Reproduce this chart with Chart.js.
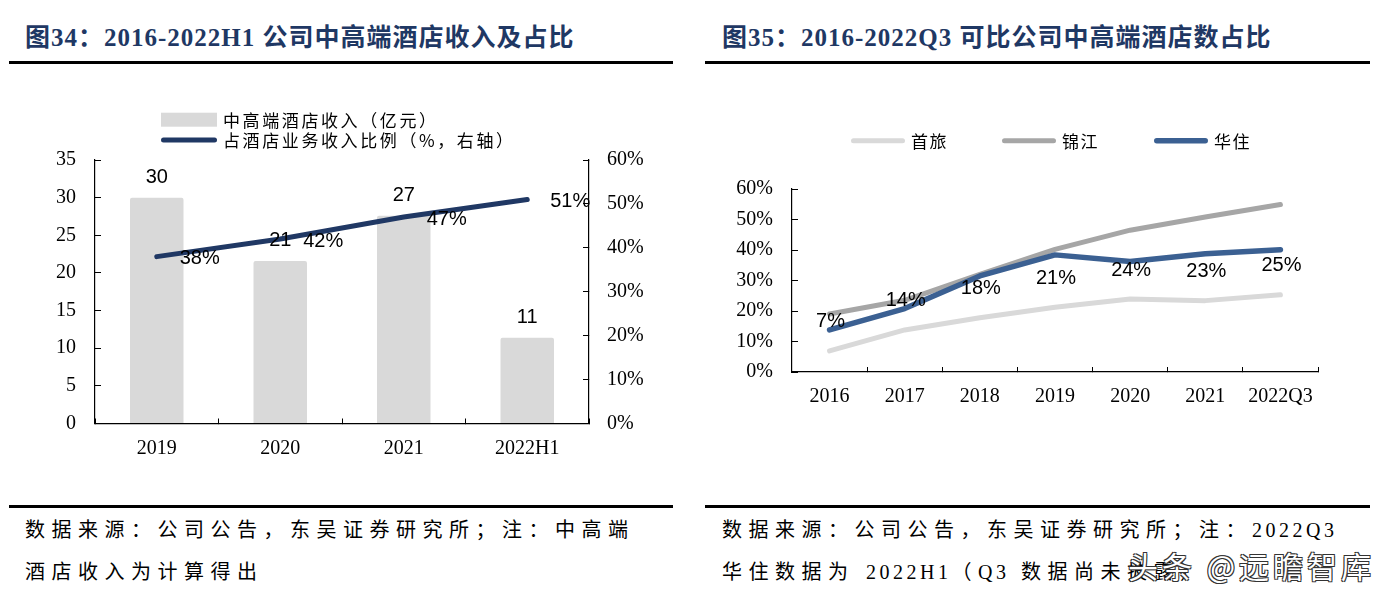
<!DOCTYPE html>
<html lang="zh">
<head>
<meta charset="UTF-8">
<title>中高端酒店收入及占比</title>
<script src="https://cdn.jsdelivr.net/npm/chart.js"></script>
<style>
  body { margin: 0; width: 1385px; height: 598px; background: #fff; position: relative; overflow: hidden;
         font-family: 'Liberation Serif', 'Noto Sans CJK SC', serif; }
  .title { position: absolute; top: 24px; font-size: 25px; line-height: 27px; font-weight: bold; color: #1f3864;
           letter-spacing: 1px; white-space: nowrap; }
  .rule { position: absolute; height: 3px; background: #000; }
  .note { position: absolute; top: 509px; font-size: 20px; line-height: 42px; letter-spacing: 6.5px; white-space: nowrap; }
  .note .en { letter-spacing: 3.5px; }
  .box { position: absolute; top: 90px; }
  .mark { position: absolute; left: 1128px; top: 546px; font-family: 'Noto Sans CJK SC', sans-serif; font-size: 30px;
          line-height: 38px; letter-spacing: 4px; color: #fff; white-space: nowrap;
          text-shadow: 1px 1px 0 #333, -1px -1px 0 #333, 1px -1px 0 #333, -1px 1px 0 #333; }
</style>
</head>
<body>

<div class="title" style="left:25px;">图34：2016-2022H1 公司中高端酒店收入及占比</div>
<div class="rule" style="left:9px; width:664px; top:61px;"></div>
<div class="title" style="left:722px;">图35：2016-2022Q3 可比公司中高端酒店数占比</div>
<div class="rule" style="left:705px; width:665px; top:61px;"></div>

<canvas id="revChart" class="box" style="left:0px;" width="690" height="390"></canvas>
<canvas id="roomChart" class="box" style="left:700px;" width="685" height="330"></canvas>

<div class="rule" style="left:9px; width:664px; top:505px;"></div>
<div class="rule" style="left:705px; width:665px; top:505px;"></div>
<div class="note" style="left:25px;">数据来源：公司公告，东吴证券研究所；注：中高端<br>酒店收入为计算得出</div>
<div class="note" style="left:722px;">数据来源：公司公告，东吴证券研究所；注：<span class="en">2022Q3</span><br>华住数据为 <span class="en">2022H1</span>（<span class="en">Q3</span> 数据尚未披露）</div>
<div class="mark">头条 @远瞻智库</div>

<script>
    // 图34：中高端酒店收入（亿元）及占比（%）
    var revCats = ['2019', '2020', '2021', '2022H1'];
    var revValues = [30, 21.6, 27.6, 11.4];
    var revShare = [38, 42, 47, 51];
    var revLeftTicks = [0, 5, 10, 15, 20, 25, 30, 35];
    var revRightTicks = [0, 10, 20, 30, 40, 50, 60];

    // 图35：可比公司中高端酒店数占比（%）
    var roomCats = ['2016', '2017', '2018', '2019', '2020', '2021', '2022Q3'];
    var shoulv = [6.9, 13.8, 17.8, 21.2, 23.9, 23.4, 25.3];
    var jinjiang = [19, 23.5, 32, 40.2, 46.5, 50.8, 54.9];
    var huazhu = [13.8, 20.8, 31.5, 38.4, 36.2, 38.8, 40.1];
    var roomTicks = [0, 10, 20, 30, 40, 50, 60];

    Chart.defaults.font.family = "'Liberation Serif', 'Times New Roman', serif";
    Chart.defaults.font.size = 20;
    Chart.defaults.color = '#000';

    var labelFont = '20px "Liberation Sans", Arial, sans-serif';

    // 自绘图例（左图为竖排）
    function makeLegend(items, spacing) {
        return {
            id: 'legendDraw',
            afterDraw: function(chart) {
                var ctx = chart.ctx;
                ctx.save();
                ctx.font = '17px "Noto Sans CJK SC", sans-serif';
                ctx.letterSpacing = spacing;
                ctx.textBaseline = 'middle';
                ctx.textAlign = 'left';
                items.forEach(function(it) {
                    var ds = chart.data.datasets[it.index];
                    if (it.kind === 'box') {
                        ctx.fillStyle = ds.backgroundColor;
                        ctx.fillRect(it.x, it.y - 7, it.len, 14);
                    } else {
                        ctx.strokeStyle = ds.borderColor;
                        ctx.lineWidth = it.w;
                        ctx.lineCap = 'round';
                        ctx.beginPath();
                        ctx.moveTo(it.x + it.w / 2, it.y);
                        ctx.lineTo(it.x + it.len - it.w / 2, it.y);
                        ctx.stroke();
                    }
                    ctx.fillStyle = '#000';
                    ctx.fillText(ds.label, it.x + it.len + 6, it.y + 1);
                });
                ctx.restore();
            }
        };
    }

    // 数据标签
    function makeLabels(sets) {
        return {
            id: 'valueLabels',
            afterDatasetsDraw: function(chart) {
                var ctx = chart.ctx;
                ctx.save();
                ctx.font = labelFont;
                ctx.fillStyle = '#000';
                ctx.textBaseline = 'middle';
                sets.forEach(function(s) {
                    var meta = chart.getDatasetMeta(s.index);
                    var vals = chart.data.datasets[s.index].data;
                    ctx.textAlign = s.align;
                    meta.data.forEach(function(el, i) {
                        ctx.fillText(s.format(vals[i]), el.x + s.dx, el.y + s.dy);
                    });
                });
                ctx.restore();
            }
        };
    }

    function fixWidth(w) { return function(scale) { scale.width = w; }; }
    function fixHeight(h) { return function(scale) { scale.height = h; }; }

    var axisBorder = { display: true, color: '#000', width: 1.2 };

    new Chart(document.getElementById('revChart'), {
        type: 'bar',
        data: {
            labels: revCats,
            datasets: [{
                type: 'bar',
                label: '中高端酒店收入（亿元）',
                data: revValues,
                backgroundColor: '#d9d9d9',
                borderRadius: 2,
                borderSkipped: 'bottom',
                barPercentage: 0.433,
                categoryPercentage: 1,
                yAxisID: 'y',
                order: 1
            }, {
                type: 'line',
                label: '占酒店业务收入比例（%，右轴）',
                data: revShare,
                borderColor: '#203864',
                borderWidth: 5,
                borderCapStyle: 'round',
                pointRadius: 0,
                yAxisID: 'y1',
                order: 0
            }]
        },
        options: {
            responsive: false,
            animation: false,
            events: [],
            layout: { padding: { top: 70, left: 0, right: 0, bottom: 0 } },
            plugins: { legend: { display: false }, tooltip: { enabled: false } },
            scales: {
                x: {
                    offset: true,
                    grid: { offset: true, drawOnChartArea: false, tickLength: -5, color: '#000', lineWidth: 1 },
                    border: axisBorder,
                    ticks: { padding: 18, maxRotation: 0 },
                    afterFit: fixHeight(56.5)
                },
                y: {
                    position: 'left',
                    min: revLeftTicks[0],
                    max: revLeftTicks[revLeftTicks.length - 1],
                    ticks: { stepSize: revLeftTicks[1] - revLeftTicks[0], padding: 25 },
                    grid: { drawOnChartArea: false, tickLength: -6, color: '#000', lineWidth: 1 },
                    border: axisBorder,
                    afterFit: fixWidth(95)
                },
                y1: {
                    position: 'right',
                    min: revRightTicks[0],
                    max: revRightTicks[revRightTicks.length - 1],
                    ticks: { stepSize: revRightTicks[1] - revRightTicks[0], padding: 24,
                             callback: function(v) { return v + '%'; } },
                    grid: { drawOnChartArea: false, tickLength: -6, color: '#000', lineWidth: 1 },
                    border: axisBorder,
                    afterFit: fixWidth(101)
                }
            }
        },
        plugins: [
            makeLegend([
                { index: 0, kind: 'box', x: 161, y: 29.7, len: 56 },
                { index: 1, kind: 'line', x: 161, y: 50, len: 56, w: 5 }
            ], '2.6px'),
            makeLabels([
                { index: 0, align: 'center', dx: 0, dy: -20, format: function(v) { return Math.floor(v); } },
                { index: 1, align: 'left', dx: 23, dy: 2, format: function(v) { return v + '%'; } }
            ])
        ]
    });

    new Chart(document.getElementById('roomChart'), {
        type: 'line',
        data: {
            labels: roomCats,
            datasets: [{
                label: '首旅',
                data: shoulv,
                borderColor: '#d9d9d9',
                borderWidth: 5,
                order: 2
            }, {
                label: '锦江',
                data: jinjiang,
                borderColor: '#a6a6a6',
                borderWidth: 5,
                order: 1
            }, {
                label: '华住',
                data: huazhu,
                borderColor: '#3b6092',
                borderWidth: 5.5,
                order: 0
            }]
        },
        options: {
            responsive: false,
            animation: false,
            events: [],
            layout: { padding: { top: 99, left: 0, right: 67, bottom: 0 } },
            elements: {
                line: { tension: 0, borderCapStyle: 'round', borderJoinStyle: 'round' },
                point: { radius: 0 }
            },
            plugins: { legend: { display: false }, tooltip: { enabled: false } },
            scales: {
                x: {
                    offset: true,
                    grid: { offset: true, drawOnChartArea: false, tickLength: -5, color: '#000', lineWidth: 1 },
                    border: axisBorder,
                    ticks: { padding: 18, maxRotation: 0 },
                    afterFit: fixHeight(48)
                },
                y: {
                    min: roomTicks[0],
                    max: roomTicks[roomTicks.length - 1],
                    ticks: { stepSize: roomTicks[1] - roomTicks[0], padding: 25,
                             callback: function(v) { return v + '%'; } },
                    grid: { drawOnChartArea: false, tickLength: -6, color: '#000', lineWidth: 1 },
                    border: axisBorder,
                    afterFit: fixWidth(92)
                }
            }
        },
        plugins: [
            makeLegend([
                { index: 0, kind: 'line', x: 151, y: 50.7, len: 54, w: 5 },
                { index: 1, kind: 'line', x: 302, y: 50.7, len: 54, w: 5 },
                { index: 2, kind: 'line', x: 454, y: 50.7, len: 54, w: 5.5 }
            ], '1.5px'),
            makeLabels([
                { index: 0, align: 'center', dx: 1, dy: -29, format: function(v) { return Math.round(v) + '%'; } }
            ])
        ]
    });
</script>

</body>
</html>
